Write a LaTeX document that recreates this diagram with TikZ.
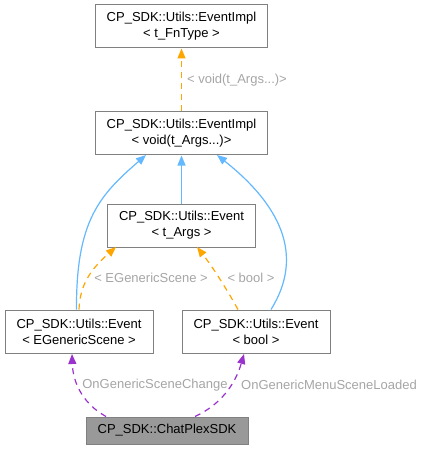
\documentclass[tikz,border=0pt]{standalone}
\usepackage{fontspec}
\setmainfont{Liberation Sans}
\usetikzlibrary{arrows.meta}
\definecolor{boxline}{RGB}{128,128,128}
\definecolor{boxgray}{RGB}{153,153,153}
\definecolor{lblgray}{RGB}{165,165,165}
\definecolor{inhblue}{RGB}{99,184,255}
\definecolor{tmplorange}{RGB}{255,165,0}
\definecolor{usepurple}{RGB}{154,50,205}

\begin{document}
\begin{tikzpicture}[x=1pt,y=-1pt,
      every node/.style={font=\fontsize{13}{16}\selectfont},
      cls/.style={draw=boxline,line width=1pt,fill=white,align=center,
        minimum width=148pt,minimum height=43pt,inner sep=0pt},
      inh/.style={draw=inhblue,line width=1.2pt,-{Triangle[length=10pt,width=8pt]}},
      tmpl/.style={draw=tmplorange,line width=1.2pt,dash pattern=on 6pt off 5pt,
        -{Triangle[length=10pt,width=8pt,fill=tmplorange]}},
      uses/.style={draw=usepurple,line width=1.2pt,dash pattern=on 6pt off 5pt,
        -{Triangle[length=10pt,width=8pt,fill=usepurple]}},
      lbl/.style={text=lblgray,inner sep=0pt}]
    \useasboundingbox (0,0) rectangle (421,449);
    \node[cls,minimum width=172pt] (fntype) at (181.5,26.5) {CP\_SDK::Utils::EventImpl\\< t\_FnType >};
    \node[cls,minimum width=172pt] (impl) at (181.5,133.5) {CP\_SDK::Utils::EventImpl\\< void(t\_Args...)>};
    \node[cls] (event) at (181.5,225.5) {CP\_SDK::Utils::Event\\< t\_Args >};
    \node[cls] (scene) at (79,331.5) {CP\_SDK::Utils::Event\\< EGenericScene >};
    \node[cls] (bool) at (256,331.5) {CP\_SDK::Utils::Event\\< bool >};
    \node[cls,fill=boxgray,minimum width=162pt,minimum height=27pt] (sdk) at (167,430.5) {CP\_SDK::ChatPlexSDK};
    \draw[tmpl] (impl.north) -- (fntype.south)
      node[lbl,midway,anchor=west,xshift=5pt] {< void(t\_Args...)>};
    \draw[inh] (scene.north -| 76.5,0) .. controls (76,220) and (100,195) .. (146,155);
    \draw[inh] (event.north) -- (impl.south);
    \draw[inh] (bool.north -| 271,0) .. controls (305,255) and (280,205) .. (217,155);
    \draw[tmpl] (scene.north -| 79,0) .. controls (80,285) and (90,270) .. (116,247);
    \node[lbl] (lscene) at (151,278) {< EGenericScene >};
    \draw[tmpl] (bool.north -| 238,0) .. controls (230,295) and (215,270) .. (197,247);
    \node[lbl] (lbool) at (251,278) {< bool >};
    \draw[uses] (sdk.north -| 106,0) .. controls (85,405) and (73,385) .. (72,354);
    \node[lbl] (lchange) at (155,385) {OnGenericSceneChange};
    \draw[uses] (sdk.north -| 195,0) .. controls (220,405) and (235,385) .. (244,354);
    \node[lbl] (lloaded) at (329,385) {OnGenericMenuSceneLoaded};
  \end{tikzpicture}
\end{document}
